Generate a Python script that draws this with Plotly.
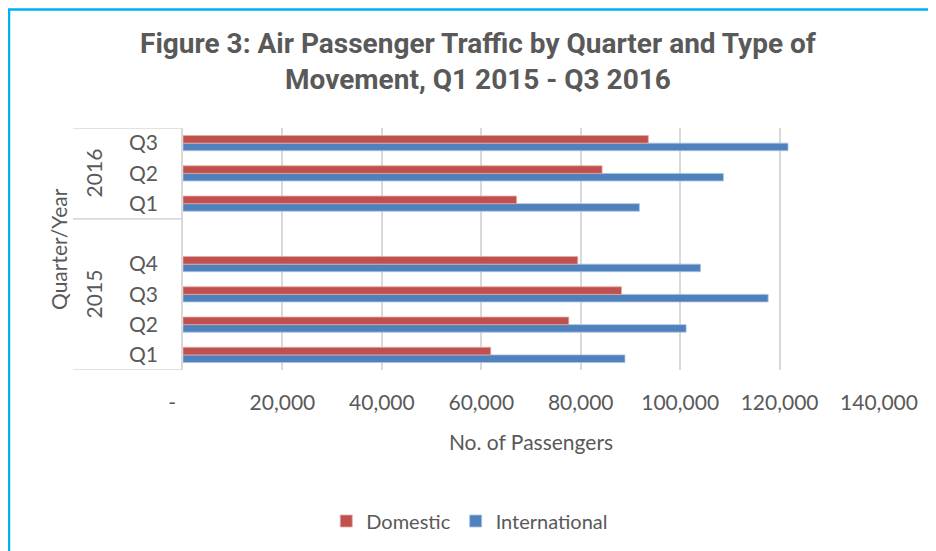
import plotly.graph_objects as go

# ---- data ----
years = ["2015", "2015", "2015", "2015", "2015", "2016", "2016", "2016"]
quarters = ["Q1", "Q2", "Q3", "Q4", "", "Q1", "Q2", "Q3"]
domestic = [61900, 77600, 88200, 79400, None, 67100, 84300, 93600]
international = [88900, 101200, 117700, 104100, None, 91800, 108700, 121700]
x_tickvals = [0, 20000, 40000, 60000, 80000, 100000, 120000, 140000]
x_ticktext = ["-&nbsp;&nbsp;&nbsp;&nbsp;", "20,000", "40,000", "60,000", "80,000", "100,000", "120,000", "140,000"]

keys = [f"{y} {q}" if q else f"{y} gap" for y, q in zip(years, quarters)]

TXT = "#595959"
FONT = "Lato, Calibri, Open Sans, sans-serif"
RED = "#C0504D"
BLUE = "#4F81BD"

# page has an 8px body margin; figure sized to fit the 936x551 window
W, H = 928, 543

fig = go.Figure()
fig.add_trace(go.Bar(
    y=keys, x=international, name="International", orientation="h",
    marker=dict(color=BLUE, line=dict(color="#A9C3E3", width=0.8)),
    legendrank=2,
))
fig.add_trace(go.Bar(
    y=keys, x=domestic, name="Domestic", orientation="h",
    marker=dict(color=RED, line=dict(color="#E3A9A7", width=0.8)),
    legendrank=1,
))

# group structure for the hierarchical category labels
groups = []
for i, y in enumerate(years):
    if groups and groups[-1][0] == y:
        groups[-1][2] = i
    else:
        groups.append([y, i, i])

shapes = []
annotations = []
line_col = "#D9D9D9"
for y, s, e in groups:
    for b in (s - 0.5, e + 0.5):
        shapes.append(dict(type="line", xref="paper", yref="y", x0=-0.158, x1=0,
                           y0=b, y1=b, line=dict(color=line_col, width=1.5)))
    annotations.append(dict(text=y, xref="paper", yref="y", x=-0.1293, y=(s + e) / 2,
                            xanchor="center", yanchor="middle",
                            textangle=-90, showarrow=False,
                            font=dict(family=FONT, size=21, color=TXT)))

annotations.append(dict(text="Quarter/Year", xref="paper", yref="paper", x=-0.1796, y=0.5,
                        xanchor="center", yanchor="middle",
                        textangle=-90, showarrow=False,
                        font=dict(family=FONT, size=21, color=TXT)))

# outer blue frame (right and bottom edges lie outside the picture)
shapes.append(dict(type="rect", xref="paper", yref="paper",
                   x0=-0.2500, x1=1.3, y0=-1.2, y1=1.4897,
                   line=dict(color="#00B0F0", width=2.5), fillcolor="rgba(0,0,0,0)", layer="below"))

fig.update_layout(
    width=W, height=H,
    margin=dict(l=175, r=57, t=120, b=181, autoexpand=False),
    paper_bgcolor="white", plot_bgcolor="white",
    barmode="group", bargap=0.5, bargroupgap=0,
    title=dict(
        text="<b>Figure 3: Air Passenger Traffic by Quarter and Type of<br>Movement, Q1 2015 - Q3 2016</b>",
        x=470 / W, xanchor="center", xref="container",
        y=1 - 45 / H, yanchor="top", yref="container",
        font=dict(family="Roboto, sans-serif", size=28, color=TXT),
    ),
    xaxis=dict(
        range=[0, 140000], tickvals=x_tickvals, ticktext=x_ticktext,
        showgrid=True, gridcolor=line_col, gridwidth=1.5, zeroline=False,
        showline=False, ticks="outside", ticklen=14, tickcolor="rgba(0,0,0,0)",
        tickfont=dict(family=FONT, size=21, color=TXT),
        title=dict(text="No. of Passengers", standoff=22,
                   font=dict(family=FONT, size=21, color=TXT)),
        automargin=False, fixedrange=True,
    ),
    yaxis=dict(
        type="category", categoryorder="array", categoryarray=keys,
        range=[-0.5, len(keys) - 0.5],
        tickvals=keys, ticktext=quarters,
        showgrid=False, zeroline=False,
        showline=True, linecolor=line_col, linewidth=1.5,
        ticks="outside", ticklen=19, tickcolor="rgba(0,0,0,0)",
        tickfont=dict(family=FONT, size=21, color=TXT),
        automargin=False, fixedrange=True,
    ),
    legend=dict(
        orientation="h", x=0.412, xanchor="center", y=-0.624, yanchor="middle",
        font=dict(family=FONT, size=20, color=TXT), traceorder="normal",
        bgcolor="rgba(0,0,0,0)",
    ),
    shapes=shapes, annotations=annotations,
    showlegend=True,
)

fig.write_html("out.html")
